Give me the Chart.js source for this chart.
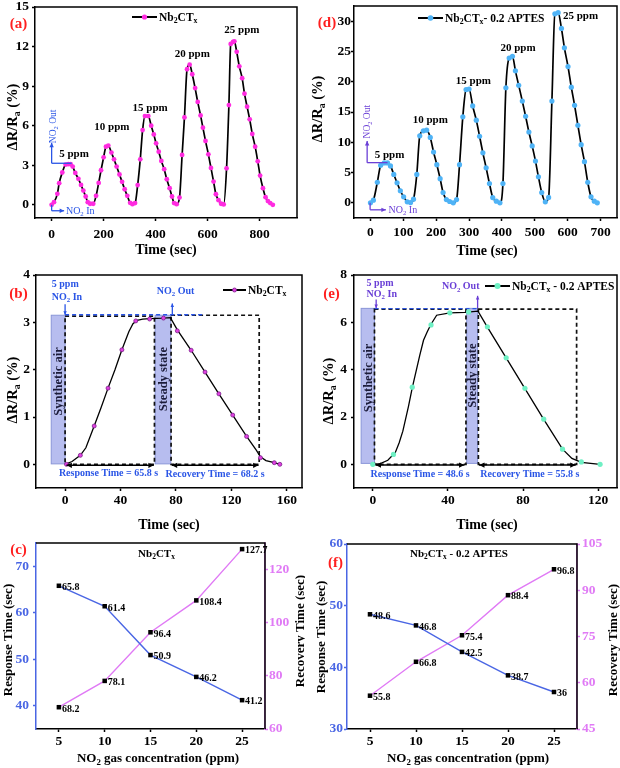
<!DOCTYPE html>
<html>
<head>
<meta charset="utf-8">
<script src="https://cdn.jsdelivr.net/npm/chart.js@4.4.1/dist/chart.umd.min.js"></script>
<style>
body { margin: 0; background: #fff; }
#wrap { position: relative; width: 620px; height: 768px; overflow: hidden; background: #fff; }
canvas { position: absolute; }
</style>
</head>
<body>
<div id="wrap">
<canvas id="chartC" width="305" height="256" style="left:0;top:512px"></canvas>
<canvas id="chartF" width="315" height="256" style="left:305px;top:512px"></canvas>
<canvas id="chartB" width="305" height="280" style="left:0;top:256px"></canvas>
<canvas id="chartE" width="315" height="280" style="left:305px;top:256px"></canvas>
<canvas id="chartA" width="305" height="262" style="left:0;top:0"></canvas>
<canvas id="chartD" width="315" height="262" style="left:305px;top:0"></canvas>
</div>
<script>
// ---------------- DATA ----------------

// (a) Nb2CTx, cycles 5 - 25 ppm
const timeA = [0, 9, 22, 29, 41, 54, 64, 73, 81, 91, 103, 113, 122, 131, 139, 148, 160, 171, 181, 190,
    200, 209, 218, 230, 240, 250, 261, 271, 281, 291, 302, 311, 321, 331, 341, 350, 359, 372, 383, 393,
    402, 412, 422, 433, 443, 454, 463, 471, 481, 492, 502, 511, 521, 531, 541, 552, 562, 573, 582, 592,
    603, 613, 623, 632, 642, 652, 662, 673, 682, 689, 698, 703, 712, 722, 733, 742, 752, 762, 772, 783,
    793, 802, 813, 823, 832, 841, 851];
const respA = [0, 0.2, 0.83, 1.64, 2.45, 3.05, 3.08, 3.08, 2.9, 2.42, 1.97, 1.51, 1.08, 0.63, 0.2, 0.08, 0.08, 0.68, 1.66, 2.62,
    3.6, 4.41, 4.49, 3.96, 3.45, 2.9, 2.3, 1.74, 1.18, 0.68, 0.15, 0.05, 0.13, 1.5, 3.45, 5.67, 6.73, 6.73, 6.0, 5.34,
    4.66, 4.03, 3.33, 2.7, 1.94, 1.26, 0.63, 0.13, 0.05, 0.55, 3.78, 6.63, 10.28, 10.63, 9.9, 8.85, 7.8, 6.78, 5.85, 4.84,
    3.83, 2.8, 1.76, 0.8, 0.35, 0.08, 0.03, 2.77, 7.56, 12.2, 12.35, 12.4, 11.6, 10.5, 9.6, 8.43, 7.44, 6.48, 5.37, 4.41,
    3.3, 2.22, 1.26, 0.58, 0.28, 0.13, 0];
const tickXA = [0, 200, 400, 600, 800];
const tickYA = [0, 3, 6, 9, 12, 15];

// (d) Nb2CTx - 0.2 APTES, cycles 5 - 25 ppm
const timeD = [0, 9, 21, 31, 42, 52, 61, 71, 81, 91, 101, 112, 122, 131, 141, 150, 161, 171, 182, 192,
    202, 212, 221, 231, 241, 252, 262, 271, 281, 291, 300, 311, 322, 332, 342, 352, 362, 372, 383, 394,
    403, 412, 422, 432, 441, 451, 462, 472, 482, 492, 502, 511, 521, 532, 542, 552, 561, 571, 581, 590,
    601, 611, 621, 631, 641, 651, 661, 671, 681, 690];
const respD = [0, 0.44, 3.4, 6.2, 6.6, 6.6, 6.1, 4.7, 3.3, 2.0, 1.0, 0.17, 0.05, 0.6, 4.7, 11.06, 11.9, 12.0, 10.8, 8.4,
    6.3, 4.0, 1.7, 0.55, 0.22, 0, 0.55, 6.3, 14.2, 18.7, 18.8, 16.0, 13.65, 11.0, 8.26, 5.78, 3.19, 0.88, 0.28, 0,
    3.19, 19.0, 23.9, 24.2, 21.8, 19.4, 16.8, 14.3, 11.7, 9.4, 6.9, 4.3, 1.7, 0.17, 0.9, 16.8, 31.2, 31.4, 28.8, 25.6,
    22.5, 19.1, 16.1, 12.8, 9.6, 6.8, 3.4, 0.99, 0.28, 0];
const tickXD = [0, 100, 200, 300, 400, 500, 600, 700];
const tickYD = [0, 5, 10, 15, 20, 25, 30];

const peakLabels = ['5 ppm', '10 ppm', '15 ppm', '20 ppm', '25 ppm'];

// (b) Nb2CTx, single 5 ppm cycle
const timeB = [1, 11, 21, 31, 41, 51, 61, 71, 81, 91, 101, 111, 121, 131, 141, 151, 155];
const respB = [0, 0.19, 0.81, 1.61, 2.42, 3.03, 3.07, 3.09, 2.82, 2.41, 1.95, 1.49, 1.04, 0.59, 0.14, 0.035, 0];
const lineTimeB = [0, 5, 11, 15, 21, 26, 31, 36, 41, 46, 49, 52, 56, 61, 71, 76, 81, 91, 101, 111, 121, 131, 138, 141, 145, 151, 155];
const lineRespB = [0, 0.06, 0.19, 0.35, 0.81, 1.2, 1.61, 2.0, 2.42, 2.8, 2.97, 3.04, 3.07, 3.08, 3.09, 3.1, 2.84, 2.41, 1.95, 1.49, 1.04, 0.59, 0.3, 0.16, 0.08, 0.035, 0];
const tickXB = [0, 40, 80, 120, 160];
const tickYB = [0, 1, 2, 3, 4];

// (e) Nb2CTx - 0.2 APTES, single 5 ppm cycle
const timeE = [0, 11, 21, 31, 41, 51, 61, 71, 81, 91, 101, 111, 121];
const respE = [0, 0.42, 3.26, 5.89, 6.4, 6.44, 5.81, 4.5, 3.21, 1.91, 0.64, 0.1, 0];
const lineTimeE = [0, 4, 8, 12, 14, 16, 19, 21, 25, 27, 29, 31, 34, 41, 49, 56, 61, 71, 81, 91, 101, 106, 111, 121];
const lineRespE = [0, 0.03, 0.17, 0.5, 0.9, 1.4, 2.45, 3.23, 4.6, 5.24, 5.6, 5.92, 6.3, 6.4, 6.42, 6.47, 5.8, 4.5, 3.2, 1.9, 0.64, 0.25, 0.08, 0];
const tickXE = [0, 40, 80, 120];
const tickYE = [0, 2, 4, 6, 8];

// (c), (f) response / recovery times
const concentrations = [5, 10, 15, 20, 25];
const responseC = [65.8, 61.4, 50.9, 46.2, 41.2];
const recoveryC = [68.2, 78.1, 96.4, 108.4, 127.7];
const responseF = [48.6, 46.8, 42.5, 38.7, 36];
const recoveryF = [55.8, 66.8, 75.4, 88.4, 96.8];
const tickXC = [5, 10, 15, 20, 25];
const tickYC = [40, 50, 60, 70];
const tickY1C = [60, 80, 100, 120];
const tickYF = [30, 40, 50, 60];
const tickY1F = [45, 60, 75, 90, 105];

// ---------------- HELPERS ----------------

const SERIF = '"Liberation Serif", "Times New Roman", Times, serif';
const MAGENTA = '#ff2be0';
const SKY = '#4fb3f6';
const AQUA = '#6ff0c4';
const BLUE = '#2a55e6';
const PURPLE = '#6a3fd6';
const RESP = '#4a66e4';
const RECOV = '#e07af5';

const points = (xs, ys) => xs.map((x, i) => ({ x: x, y: ys[i] }));

function fixY(w) { return s => { s.width = w; s.paddingTop = 0; s.paddingBottom = 0; }; }
function fixX(h) { return s => { s.height = h; s.paddingLeft = 0; s.paddingRight = 0; }; }

function axis(min, max, values, fit, pad, color, position) {
    color = color || '#000';
    return {
        type: 'linear', min: min, max: max, position: position,
        afterBuildTicks: s => { s.ticks = values.map(v => ({ value: v })); },
        afterFit: fit,
        grid: { drawOnChartArea: false, tickLength: 3, tickWidth: 1.5, tickColor: color, color: color },
        border: { display: true, color: color, width: 1.5 },
        ticks: {
            color: color, padding: pad, maxRotation: 0, autoSkip: false,
            font: { family: SERIF, size: 13.5, weight: 'bold' },
            callback: v => String(v)
        }
    };
}

function baseOptions(scales, padding) {
    return {
        responsive: false, animation: false, devicePixelRatio: 1, events: [],
        layout: { padding: padding, autoPadding: false },
        plugins: { legend: { display: false }, tooltip: { enabled: false } },
        scales: scales
    };
}

// text with {..} as subscript
function rich(ctx, text, x, y, size, color, align, bold) {
    const parts = [];
    text.split(/(\{[^}]*\})/).forEach(p => {
        if (!p) return;
        if (p[0] === '{') parts.push({ t: p.slice(1, -1), sub: true });
        else parts.push({ t: p, sub: false });
    });
    const w = bold === false ? '' : 'bold ';
    let total = 0;
    parts.forEach(p => {
        ctx.font = w + (p.sub ? size * 0.68 : size) + 'px ' + SERIF;
        p.w = ctx.measureText(p.t).width;
        total += p.w;
    });
    let cx = align === 'center' ? x - total / 2 : (align === 'right' ? x - total : x);
    const base = y + size * 0.33;
    ctx.fillStyle = color;
    ctx.textAlign = 'left';
    ctx.textBaseline = 'alphabetic';
    parts.forEach(p => {
        ctx.font = w + (p.sub ? size * 0.68 : size) + 'px ' + SERIF;
        ctx.fillText(p.t, cx, p.sub ? base + size * 0.22 : base);
        cx += p.w;
    });
}

function richRot(ctx, text, x, y, size, color, bold) {
    ctx.save();
    ctx.translate(x, y);
    ctx.rotate(-Math.PI / 2);
    rich(ctx, text, 0, 0, size, color, 'center', bold);
    ctx.restore();
}

function arrowHead(ctx, x1, y1, x2, y2, color, head) {
    const ang = Math.atan2(y2 - y1, x2 - x1);
    ctx.fillStyle = color;
    ctx.beginPath();
    ctx.moveTo(x2, y2);
    ctx.lineTo(x2 - head * Math.cos(ang - 0.45), y2 - head * Math.sin(ang - 0.45));
    ctx.lineTo(x2 - head * Math.cos(ang + 0.45), y2 - head * Math.sin(ang + 0.45));
    ctx.closePath();
    ctx.fill();
}

function arrow(ctx, x1, y1, x2, y2, color, head, width, both) {
    ctx.save();
    ctx.setLineDash([]);
    ctx.strokeStyle = color;
    ctx.lineWidth = width || 1.3;
    ctx.beginPath();
    ctx.moveTo(x1, y1);
    ctx.lineTo(x2, y2);
    ctx.stroke();
    arrowHead(ctx, x1, y1, x2, y2, color, head);
    if (both) arrowHead(ctx, x2, y2, x1, y1, color, head);
    ctx.restore();
}

function legend(ctx, x, y, len, markColor, radius, text, markBorder) {
    ctx.save();
    ctx.strokeStyle = '#000';
    ctx.lineWidth = 2;
    ctx.beginPath();
    ctx.moveTo(x, y);
    ctx.lineTo(x + len, y);
    ctx.stroke();
    ctx.fillStyle = markColor;
    ctx.beginPath();
    ctx.arc(x + len / 2, y, radius, 0, Math.PI * 2);
    ctx.fill();
    if (markBorder) { ctx.strokeStyle = markBorder; ctx.lineWidth = 0.8; ctx.stroke(); }
    rich(ctx, text, x + len + 2, y, 11.5, '#000', 'left', true);
    ctx.restore();
}

function panelTag(ctx, tag, x, y) {
    rich(ctx, tag, x, y, 15, '#ff1f1f', 'center', true);
}

function box(ctx, X, Y, t1, t2, v1, v2, fill, stroke) {
    const x = X(t1), y = Y(v2), w = X(t2) - X(t1), h = Y(v1) - Y(v2);
    ctx.save();
    ctx.setLineDash([]);
    ctx.fillStyle = fill;
    ctx.fillRect(x, y, w, h);
    ctx.strokeStyle = stroke;
    ctx.lineWidth = 1;
    ctx.strokeRect(x, y, w, h);
    ctx.restore();
}

function dashRect(ctx, X, Y, t1, t2, v1, v2) {
    ctx.save();
    ctx.setLineDash([4, 3]);
    ctx.strokeStyle = '#111';
    ctx.lineWidth = 1.7;
    ctx.strokeRect(X(t1), Y(v2), X(t2) - X(t1), Y(v1) - Y(v2));
    ctx.restore();
}

function dashLine(ctx, x1, y1, x2, y2, color) {
    ctx.save();
    ctx.setLineDash([4, 3]);
    ctx.strokeStyle = color;
    ctx.lineWidth = 1.3;
    ctx.beginPath();
    ctx.moveTo(x1, y1);
    ctx.lineTo(x2, y2);
    ctx.stroke();
    ctx.restore();
}

const framePlugin = {
    id: 'frame',
    afterDraw(chart, args, opts) {
        const a = chart.chartArea, ctx = chart.ctx;
        ctx.save();
        ctx.strokeStyle = '#000';
        ctx.lineWidth = 1.5;
        ctx.beginPath();
        ctx.moveTo(a.left, a.top);
        ctx.lineTo(a.right, a.top);
        if (!opts.openRight) ctx.lineTo(a.right, a.bottom);
        ctx.stroke();
        ctx.restore();
    }
};

const valueLabels = {
    id: 'valueLabels',
    afterDatasetsDraw(chart) {
        const ctx = chart.ctx;
        ctx.save();
        chart.data.datasets.forEach((ds, i) => {
            chart.getDatasetMeta(i).data.forEach((pt, j) => {
                rich(ctx, String(ds.data[j].y), pt.x + 3, pt.y + 1, 10, '#000', 'left', true);
            });
        });
        ctx.restore();
    }
};

function scalers(chart) {
    return [v => chart.scales.x.getPixelForValue(v), v => chart.scales.y.getPixelForValue(v)];
}

// ---------------- (a) ----------------

new Chart(document.getElementById('chartA'), {
    type: 'line',
    data: {
        datasets: [{
            data: points(timeA, respA),
            borderColor: '#000', borderWidth: 1.7,
            cubicInterpolationMode: 'monotone',
            pointRadius: 2.4, pointBackgroundColor: MAGENTA, pointBorderWidth: 0
        }]
    },
    options: baseOptions({
        x: axis(-64, 944, tickXA, fixX(44), 5),
        y: axis(-1, 15, tickYA, fixY(35), 3)
    }, { top: 7, right: 8, left: 0, bottom: 0 }),
    plugins: [framePlugin, {
        id: 'panelA',
        afterDraw(chart) {
            const ctx = chart.ctx;
            const [X, Y] = scalers(chart);
            ctx.save();
            legend(ctx, 132, 17, 25, MAGENTA, 2.6, 'Nb{2}CT{x}');
            panelTag(ctx, '(a)', 18.5, 23);
            rich(ctx, 'Time (sec)', 166, 249, 14, '#000', 'center', true);
            richRot(ctx, 'ΔR/R{a} (%)', 12, 117, 14.5, '#000', true);
            const spots = [[86, 3.93], [232, 5.98], [379, 7.41], [541, 11.5], [732, 13.3]];
            spots.forEach((p, i) => rich(ctx, peakLabels[i], X(p[0]), Y(p[1]), 11, '#000', 'center', true));
            // NO2 out / in markers
            ctx.strokeStyle = BLUE;
            ctx.lineWidth = 1.3;
            ctx.beginPath();
            ctx.moveTo(X(77), Y(3.15));
            ctx.lineTo(X(0), Y(3.15));
            ctx.stroke();
            arrow(ctx, X(0), Y(3.15), X(0), Y(4.7), BLUE, 5);
            richRot(ctx, 'NO{2} Out', X(0) + 1, Y(5.95), 9.5, BLUE, false);
            ctx.beginPath();
            ctx.moveTo(X(0), Y(0));
            ctx.lineTo(X(0), Y(-0.45));
            ctx.stroke();
            arrow(ctx, X(0), Y(-0.45), X(48), Y(-0.45), BLUE, 5);
            rich(ctx, 'NO{2} In', X(55), Y(-0.45), 10, BLUE, 'left', false);
            ctx.restore();
        }
    }]
});

// ---------------- (d) ----------------

new Chart(document.getElementById('chartD'), {
    type: 'line',
    data: {
        datasets: [{
            data: points(timeD, respD),
            borderColor: '#000', borderWidth: 1.7,
            cubicInterpolationMode: 'monotone',
            pointRadius: 2.6, pointBackgroundColor: SKY, pointBorderWidth: 0
        }]
    },
    options: baseOptions({
        x: axis(-50, 750, tickXD, fixX(44), 3),
        y: axis(-2.5, 32.5, tickYD, fixY(49), 0)
    }, { top: 6, right: 3, left: 0, bottom: 0 }),
    plugins: [framePlugin, {
        id: 'panelD',
        afterDraw(chart) {
            const ctx = chart.ctx;
            const [X, Y] = scalers(chart);
            ctx.save();
            legend(ctx, 113, 18, 25, SKY, 2.8, 'Nb{2}CT{x}- 0.2 APTES');
            panelTag(ctx, '(d)', 22, 22);
            rich(ctx, 'Time (sec)', 182, 250, 14, '#000', 'center', true);
            richRot(ctx, 'ΔR/R{a} (%)', 12, 109, 14.5, '#000', true);
            const spots = [[58, 8.07], [182, 13.8], [313, 20.3], [449, 25.6], [639, 31.0]];
            spots.forEach((p, i) => rich(ctx, peakLabels[i], X(p[0]), Y(p[1]), 11, '#000', 'center', true));
            ctx.strokeStyle = PURPLE;
            ctx.lineWidth = 1.3;
            ctx.beginPath();
            ctx.moveTo(X(52), Y(6.64));
            ctx.lineTo(X(-10), Y(6.64));
            ctx.stroke();
            arrow(ctx, X(-10), Y(6.64), X(-10), Y(10.2), PURPLE, 5);
            richRot(ctx, 'NO{2} Out', X(-12), Y(13.4), 9.5, PURPLE, false);
            ctx.beginPath();
            ctx.moveTo(X(-1), Y(0));
            ctx.lineTo(X(-1), Y(-1.15));
            ctx.stroke();
            arrow(ctx, X(-1), Y(-1.15), X(47), Y(-1.15), PURPLE, 5);
            rich(ctx, 'NO{2} In', X(55), Y(-1.15), 10, PURPLE, 'left', false);
            ctx.restore();
        }
    }]
});

// ---------------- (b) ----------------

new Chart(document.getElementById('chartB'), {
    type: 'line',
    data: {
        datasets: [
            {
                data: points(timeB, respB), showLine: false,
                pointRadius: 2, pointBackgroundColor: '#e040e0',
                pointBorderColor: '#7a1f8a', pointBorderWidth: 0.8
            },
            {
                data: points(lineTimeB, lineRespB),
                borderColor: '#000', borderWidth: 1.3, pointRadius: 0, tension: 0
            }
        ]
    },
    options: baseOptions({
        x: axis(-21, 171, tickXB, fixX(48), 1),
        y: axis(-0.5, 4, tickYB, fixY(36), 3)
    }, { top: 19, right: 3, left: 0, bottom: 0 }),
    plugins: [framePlugin, {
        id: 'panelB',
        beforeDatasetsDraw(chart) {
            const ctx = chart.ctx;
            const [X, Y] = scalers(chart);
            box(ctx, X, Y, -10, 0, 0.01, 3.15, 'rgba(170,178,236,0.85)', '#8a96d8');
            box(ctx, X, Y, 65, 76.3, 0.01, 3.15, 'rgba(170,178,236,0.85)', '#8a96d8');
            dashRect(ctx, X, Y, 0, 64.5, 0, 3.13);
            dashRect(ctx, X, Y, 76.5, 140.1, 0, 3.15);
            dashLine(ctx, X(0), Y(3.16), X(100), Y(3.16), BLUE);
        },
        afterDraw(chart) {
            const ctx = chart.ctx;
            const [X, Y] = scalers(chart);
            ctx.save();
            legend(ctx, 223, 34, 23, '#e040e0', 2, 'Nb{2}CT{x}', '#7a1f8a');
            panelTag(ctx, '(b)', 18.5, 37);
            rich(ctx, 'Time (sec)', 169, 268, 14, '#000', 'center', true);
            richRot(ctx, 'ΔR/R{a} (%)', 12, 134, 14.5, '#000', true);
            richRot(ctx, 'Synthetic air', X(-5), Y(1.75), 12.5, '#1c1c3a', true);
            richRot(ctx, 'Steady state', X(70.7), Y(1.8), 12.5, '#1c1c3a', true);
            arrow(ctx, X(1), Y(-0.02), X(64), Y(-0.02), '#000', 6, 1.4, true);
            arrow(ctx, X(77), Y(-0.02), X(139.6), Y(-0.02), '#000', 6, 1.4, true);
            rich(ctx, 'Response Time = 65.8 s', X(31.3), Y(-0.17), 10, BLUE, 'center', true);
            rich(ctx, 'Recovery Time = 68.2 s', X(108.3), Y(-0.19), 10, BLUE, 'center', true);
            rich(ctx, '5 ppm', X(-9.6), Y(3.81), 10, BLUE, 'left', true);
            rich(ctx, 'NO{2} In', X(-9.6), Y(3.54), 10, BLUE, 'left', true);
            arrow(ctx, X(0), Y(3.38), X(0), Y(3.16), BLUE, 4);
            rich(ctx, 'NO{2} Out', X(66.2), Y(3.67), 10, BLUE, 'left', true);
            arrow(ctx, X(77.4), Y(3.16), X(77.4), Y(3.4), BLUE, 4);
            ctx.restore();
        }
    }]
});

// ---------------- (e) ----------------

new Chart(document.getElementById('chartE'), {
    type: 'line',
    data: {
        datasets: [
            {
                data: points(timeE, respE), showLine: false,
                pointRadius: 2.6, pointBackgroundColor: AQUA, pointBorderWidth: 0
            },
            {
                data: points(lineTimeE, lineRespE),
                borderColor: '#000', borderWidth: 1.3, pointRadius: 0, tension: 0
            }
        ]
    },
    options: baseOptions({
        x: axis(-10, 130, tickXE, fixX(48), 1),
        y: axis(-1, 8, tickYE, fixY(49), 4)
    }, { top: 19, right: 3, left: 0, bottom: 0 }),
    plugins: [framePlugin, {
        id: 'panelE',
        beforeDatasetsDraw(chart) {
            const ctx = chart.ctx;
            const [X, Y] = scalers(chart);
            box(ctx, X, Y, -6.2, 0.9, 0.04, 6.59, 'rgba(170,178,236,0.85)', '#8a96d8');
            box(ctx, X, Y, 50, 55.8, 0.04, 6.59, 'rgba(170,178,236,0.85)', '#8a96d8');
            dashRect(ctx, X, Y, 0.9, 49.6, 0, 6.56);
            dashRect(ctx, X, Y, 56.2, 108.5, 0, 6.56);
            dashLine(ctx, X(0.9), Y(6.58), X(56), Y(6.58), BLUE);
        },
        afterDraw(chart) {
            const ctx = chart.ctx;
            const [X, Y] = scalers(chart);
            ctx.save();
            rich(ctx, 'NO{2} Out', X(36.8), Y(7.53), 10, PURPLE, 'left', true);
            legend(ctx, 180, 30, 25, AQUA, 3, 'Nb{2}CT{x} - 0.2 APTES');
            panelTag(ctx, '(e)', 26.5, 37);
            rich(ctx, 'Time (sec)', 182, 268, 14, '#000', 'center', true);
            richRot(ctx, 'ΔR/R{a} (%)', 23, 135, 14.5, '#000', true);
            richRot(ctx, 'Synthetic air', X(-2.65), Y(3.65), 12.5, '#1c1c3a', true);
            richRot(ctx, 'Steady state', X(52.9), Y(3.75), 12.5, '#1c1c3a', true);
            arrow(ctx, X(1.5), Y(-0.03), X(48.8), Y(-0.03), '#000', 6, 1.4, true);
            arrow(ctx, X(56.6), Y(-0.03), X(108), Y(-0.03), '#000', 6, 1.4, true);
            rich(ctx, 'Response Time = 48.6 s', X(25.2), Y(-0.38), 10, BLUE, 'center', true);
            rich(ctx, 'Recovery Time = 55.8 s', X(83.6), Y(-0.38), 10, BLUE, 'center', true);
            rich(ctx, '5 ppm', X(-3.3), Y(7.69), 10, PURPLE, 'left', true);
            rich(ctx, 'NO{2} In', X(-3.3), Y(7.22), 10, PURPLE, 'left', true);
            arrow(ctx, X(1.8), Y(6.97), X(1.8), Y(6.6), PURPLE, 4);
            arrow(ctx, X(55.8), Y(6.6), X(55.8), Y(7.12), PURPLE, 4);
            ctx.restore();
        }
    }]
});

// ---------------- (c), (f) ----------------

function timesChart(id, response, recovery, yMin, yMax, yTicks, y1Min, y1Max, y1Ticks, areaLeft, areaTop, areaRight, padLeftTicks, padRightTicks, draw) {
    new Chart(document.getElementById(id), {
        type: 'line',
        data: {
            datasets: [
                {
                    data: points(concentrations, response), yAxisID: 'y',
                    borderColor: RESP, borderWidth: 1.4, tension: 0,
                    pointStyle: 'rect', pointRadius: 3.2, pointBackgroundColor: '#000', pointBorderWidth: 0
                },
                {
                    data: points(concentrations, recovery), yAxisID: 'y1',
                    borderColor: RECOV, borderWidth: 1.4, tension: 0,
                    pointStyle: 'rect', pointRadius: 3.2, pointBackgroundColor: '#000', pointBorderWidth: 0
                }
            ]
        },
        options: baseOptions({
            x: axis(2.5, 27.5, tickXC, fixX(39), 1),
            y: axis(yMin, yMax, yTicks, fixY(areaLeft), padLeftTicks, RESP, 'left'),
            y1: axis(y1Min, y1Max, y1Ticks, fixY(areaRight), padRightTicks, RECOV, 'right')
        }, { top: areaTop, right: 0, left: 0, bottom: 0 }),
        plugins: [framePlugin, valueLabels, { id: id + 'Text', afterDraw: draw }]
    });
}

timesChart('chartC', responseC, recoveryC, 35, 75, tickYC, 60, 130, tickY1C, 36, 31, 40, 4, 1, chart => {
    const ctx = chart.ctx;
    ctx.save();
    panelTag(ctx, '(c)', 18.5, 37);
    rich(ctx, 'Nb{2}CT{x}', 156.5, 41, 11, '#000', 'center', true);
    rich(ctx, 'NO{2} gas concentration (ppm)', 158, 246, 13, '#000', 'center', true);
    richRot(ctx, 'Response Time (sec)', 8, 128, 13, '#000', true);
    richRot(ctx, 'Recovery Time (sec)', 300, 119, 13, '#000', true);
    ctx.restore();
});

timesChart('chartF', responseF, recoveryF, 30, 60, tickYF, 45, 105, tickY1F, 42, 32, 43, 1, 2, chart => {
    const ctx = chart.ctx;
    ctx.save();
    panelTag(ctx, '(f)', 30.5, 50);
    rich(ctx, 'Nb{2}CT{x} - 0.2 APTES', 154, 41, 11, '#000', 'center', true);
    rich(ctx, 'NO{2} gas concentration (ppm)', 163, 246, 13, '#000', 'center', true);
    richRot(ctx, 'Response Time (sec)', 16, 125, 13, '#000', true);
    richRot(ctx, 'Recovery Time (sec)', 308, 128, 13, '#000', true);
    ctx.restore();
});
</script>
</body>
</html>
